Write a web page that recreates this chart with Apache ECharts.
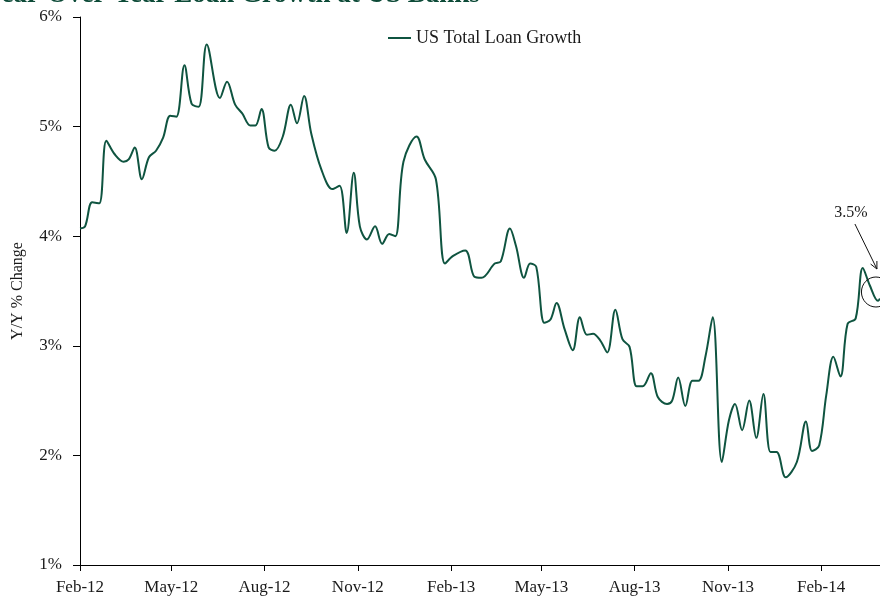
<!DOCTYPE html>
<html>
<head>
<meta charset="utf-8">
<script src="https://cdn.jsdelivr.net/npm/echarts@6/dist/echarts.min.js"></script>
<style>
  html, body { margin: 0; padding: 0; background: #ffffff; }
  #chart { width: 880px; height: 596px; }
</style>
</head>
<body>
<div id="chart"></div>
<script>
// ---- data ----
const titleText = 'Year-Over-Year Loan Growth at US Banks';
const seriesName = 'US Total Loan Growth';
const yAxisName = 'Y/Y % Change';

const dates = [
  '2012-02-01','2012-02-06','2012-02-13','2012-02-20','2012-02-27','2012-03-06','2012-03-15','2012-03-20','2012-03-26',
  '2012-04-02','2012-04-09','2012-04-16','2012-04-23','2012-04-30','2012-05-06','2012-05-14','2012-05-21','2012-05-28',
  '2012-06-05','2012-06-18','2012-06-25','2012-07-03','2012-07-10','2012-07-18','2012-07-23','2012-07-29',
  '2012-08-05','2012-08-11','2012-08-19','2012-08-27','2012-09-02','2012-09-09','2012-09-16','2012-09-26',
  '2012-10-07','2012-10-14','2012-10-21','2012-10-28','2012-11-03','2012-11-10','2012-11-18','2012-11-25',
  '2012-12-02','2012-12-08','2012-12-16','2012-12-29','2013-01-06','2013-01-17','2013-01-26',
  '2013-02-03','2013-02-15','2013-02-24','2013-03-03','2013-03-16','2013-03-22','2013-03-31',
  '2013-04-06','2013-04-14','2013-04-20','2013-04-26','2013-05-04','2013-05-10','2013-05-16','2013-05-24',
  '2013-06-01','2013-06-08','2013-06-15','2013-06-21','2013-06-28','2013-07-05','2013-07-13','2013-07-20','2013-07-27',
  '2013-08-03','2013-08-09','2013-08-17','2013-08-24','2013-09-02','2013-09-07','2013-09-13','2013-09-20','2013-09-27',
  '2013-10-03','2013-10-10','2013-10-17','2013-10-26','2013-11-02','2013-11-08','2013-11-15','2013-11-22','2013-11-29',
  '2013-12-06','2013-12-13','2013-12-19','2013-12-28','2014-01-08','2014-01-17','2014-01-23','2014-01-30',
  '2014-02-06','2014-02-13','2014-02-20','2014-02-27','2014-03-07','2014-03-14','2014-03-21','2014-03-29','2014-03-31'
];
const loanGrowth = [
  4.07,4.09,4.31,4.30,4.87,4.75,4.68,4.70,4.81,
  4.52,4.72,4.78,4.90,5.10,5.09,5.56,5.21,5.18,
  5.75,5.26,5.41,5.20,5.12,5.01,5.01,5.16,
  4.81,4.78,4.91,5.20,5.03,5.28,4.94,4.61,
  4.43,4.46,4.03,4.58,4.09,3.97,4.09,3.93,
  4.02,4.00,4.68,4.91,4.70,4.52,3.75,
  3.82,3.87,3.63,3.62,3.75,3.77,4.07,
  3.91,3.62,3.75,3.72,3.21,3.24,3.39,3.15,
  2.96,3.26,3.10,3.11,3.05,2.94,3.33,3.06,2.99,
  2.63,2.63,2.75,2.53,2.47,2.50,2.71,2.45,2.68,
  2.68,2.91,3.26,1.94,2.32,2.47,2.23,2.50,2.16,
  2.56,2.03,2.03,1.80,1.94,2.31,2.04,2.09,
  2.55,2.90,2.72,3.20,3.25,3.71,3.55,3.41,3.43
];
const xMin = '2012-02-01';
const xMax = '2014-03-31';
const xTickDates = ['2012-02-01','2012-05-01','2012-08-01','2012-11-01','2013-02-01','2013-05-01','2013-08-01','2013-11-01','2014-02-01'];
const yMin = 1, yMax = 6, yStep = 1;
const annotation = { date: '2014-03-26', value: 3.5, label: '3.5%' };

// ---- chart ----
const monthNames = ['Jan','Feb','Mar','Apr','May','Jun','Jul','Aug','Sep','Oct','Nov','Dec'];
function ts(s) { const p = s.split('-').map(Number); return Date.UTC(p[0], p[1]-1, p[2]); }
const tickTs = xTickDates.map(ts);
const FONT = '"Liberation Serif", "DejaVu Serif", serif';
const lineColor = '#0f5440';

const chart = echarts.init(document.getElementById('chart'), null, { renderer: 'canvas' });
chart.setOption({
  animation: false,
  backgroundColor: '#ffffff',
  title: {
    text: titleText,
    left: -20, top: -23,
    textStyle: { fontFamily: FONT, fontSize: 27, fontWeight: 'bold', color: '#0c4a37' }
  },
  legend: {
    data: [seriesName],
    left: 388, top: 29, padding: 0,
    icon: 'rect', itemWidth: 23, itemHeight: 2, itemGap: 4,
    textStyle: { fontFamily: FONT, fontSize: 18, color: '#1a1a1a' }
  },
  grid: { left: 80, right: 0, top: 17, bottom: 29, containLabel: false },
  xAxis: {
    type: 'value',
    min: ts(xMin), max: ts(xMax),
    axisLine: { show: true, lineStyle: { color: '#000', width: 1 } },
    axisTick: { show: true, length: 6, lineStyle: { color: '#000' }, customValues: tickTs },
    axisLabel: {
      customValues: tickTs,
      margin: 14,
      fontFamily: FONT, fontSize: 17, color: '#1a1a1a',
      formatter: function (v) { const d = new Date(v); return monthNames[d.getUTCMonth()] + '-' + String(d.getUTCFullYear()).slice(2); }
    },
    splitLine: { show: false }
  },
  yAxis: {
    type: 'value', min: yMin, max: yMax, interval: yStep,
    name: yAxisName, nameLocation: 'middle', nameGap: 54, nameRotate: 90,
    nameTextStyle: { fontFamily: FONT, fontSize: 16, color: '#1a1a1a' },
    axisLine: { show: true, lineStyle: { color: '#000', width: 1 } },
    axisTick: { show: true, length: 7, lineStyle: { color: '#000' } },
    axisLabel: { margin: 18, fontFamily: FONT, fontSize: 17, color: '#1a1a1a', formatter: '{value}%' },
    splitLine: { show: false }
  },
  series: [{
    name: seriesName,
    type: 'line',
    data: dates.map((d, i) => [ts(d), loanGrowth[i]]),
    smooth: 0.35,
    showSymbol: false,
    symbol: 'none',
    lineStyle: { color: lineColor, width: 2 },
    itemStyle: { color: lineColor }
  }]
});

// annotation anchored at a data coordinate
const c = chart.convertToPixel({ gridIndex: 0 }, [ts(annotation.date), annotation.value]);
const tip = [c[0] + 2, c[1] - 22];
const tail = [c[0] - 20, c[1] - 67];
const ang = Math.atan2(tip[1] - tail[1], tip[0] - tail[0]);
const ah = 8, aw = 0.45;
chart.setOption({
  graphic: [
    { type: 'ellipse', shape: { cx: c[0] + 1, cy: c[1] + 1, rx: 14.5, ry: 15 }, style: { fill: 'none', stroke: '#111', lineWidth: 1 }, z: 10 },
    { type: 'line', shape: { x1: tail[0], y1: tail[1], x2: tip[0], y2: tip[1] }, style: { stroke: '#111', lineWidth: 1 }, z: 10 },
    { type: 'polyline', shape: { points: [
        [tip[0] - ah * Math.cos(ang - aw), tip[1] - ah * Math.sin(ang - aw)],
        tip,
        [tip[0] - ah * Math.cos(ang + aw), tip[1] - ah * Math.sin(ang + aw)]
      ] }, style: { fill: 'none', stroke: '#111', lineWidth: 1 }, z: 10 },
    { type: 'text', x: tail[0] - 4, y: tail[1] - 3, style: { text: annotation.label, font: '16px ' + FONT, fill: '#1a1a1a', textAlign: 'center', textVerticalAlign: 'bottom' }, z: 10 }
  ]
});
</script>
</body>
</html>
